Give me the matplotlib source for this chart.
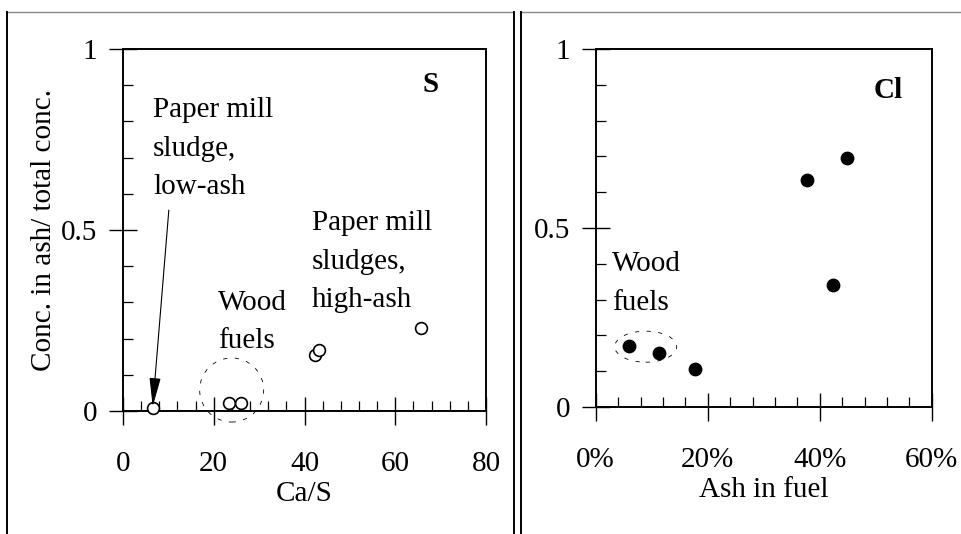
import matplotlib
matplotlib.use("Agg")
import matplotlib.pyplot as plt
from matplotlib.patches import Ellipse
from matplotlib.lines import Line2D
from matplotlib.ticker import MultipleLocator, FixedLocator, FuncFormatter, PercentFormatter

plt.rcParams['font.family'] = ['Liberation Serif', 'DejaVu Serif']

# Sulphur: Ca/S ratio vs. fraction retained in ash
ca_s = [6.6, 23.3, 25.9, 42.3, 43.2, 65.7]
s_in_ash = [0.008, 0.023, 0.023, 0.155, 0.168, 0.228]

# Chlorine: ash content of fuel vs. fraction retained in ash
ash_in_fuel = [0.060, 0.113, 0.178, 0.378, 0.449, 0.424]
cl_in_ash = [0.170, 0.150, 0.105, 0.634, 0.696, 0.340]

y_ticks = [0, 0.5, 1]
y_tick_labels = ["0", "0.5", "1"]

W, H = 961, 534
FS = 21

fig = plt.figure(figsize=(W / 100, H / 100), dpi=100)


def px_rect(x0, y0, x1, y1):
    return [x0 / W, 1 - y1 / H, (x1 - x0) / W, (y1 - y0) / H]


def fx(px):
    return px / W


def fy(py):
    return 1 - py / H


def style_axes(ax):
    for sp in ax.spines.values():
        sp.set_linewidth(1.4)
        sp.set_color('black')
    ax.set_ylim(0, 1)
    ax.yaxis.set_major_locator(FixedLocator(y_ticks))
    ax.yaxis.set_major_formatter(FuncFormatter(lambda v, p: y_tick_labels[y_ticks.index(v)] if v in y_ticks else ""))
    ax.yaxis.set_minor_locator(MultipleLocator(0.1))
    ax.tick_params(which='major', direction='inout', length=20, width=1.0,
                   labelsize=FS, top=False, right=False)
    ax.tick_params(which='minor', direction='in', length=7, width=0.9,
                   top=False, right=False)
    ax.tick_params(axis='x', which='major', pad=18.5)
    ax.tick_params(axis='y', which='major', pad=8.5)


# ---- Left panel: S ----
ax1 = fig.add_axes(px_rect(123, 49, 486, 411))
ax1.scatter(ca_s, s_in_ash, s=72, facecolors='white', edgecolors='black',
            linewidths=1.2, zorder=3, clip_on=False)
ax1.set_xlim(0, 80)
ax1.xaxis.set_major_locator(MultipleLocator(20))
ax1.xaxis.set_minor_locator(MultipleLocator(4))
style_axes(ax1)
ax1.set_xlabel("Ca/S", fontsize=FS, labelpad=3.5)
ax1.set_ylabel("Conc. in ash/ total conc.", fontsize=FS, labelpad=3)

ax1.add_patch(Ellipse((23.95, 0.058), 14.1, 0.177, fill=False, edgecolor='black',
                      linewidth=0.6, linestyle=(0, (5, 9)), clip_on=False, zorder=2))

ax1.annotate("", xy=(6.55, 0.012), xytext=(10.1, 0.555),
             arrowprops=dict(arrowstyle="-|>,head_length=1.8,head_width=0.35",
                             mutation_scale=10, color='black', lw=0.8,
                             shrinkA=0, shrinkB=0))

# ---- Right panel: Cl ----
ax2 = fig.add_axes(px_rect(595.7, 49, 931.7, 407))
ax2.scatter(ash_in_fuel, cl_in_ash, s=80, color='black', zorder=3)
ax2.set_xlim(0, 0.6)
ax2.xaxis.set_major_locator(MultipleLocator(0.2))
ax2.xaxis.set_minor_locator(MultipleLocator(0.04))
ax2.xaxis.set_major_formatter(PercentFormatter(xmax=1, decimals=0))
style_axes(ax2)
ax2.set_xlabel("Ash in fuel", fontsize=FS, labelpad=3.5)

ax2.add_patch(Ellipse((0.0893, 0.1685), 0.1107, 0.0866, fill=False, edgecolor='black',
                      linewidth=0.6, linestyle=(0, (5, 9)), clip_on=False, zorder=2))

# ---- Annotation labels (one text per line, baseline-anchored) ----
labels = [
    (153, [117, 156, 194], ["Paper mill", "sludge,", "low-ash"]),
    (312, [230, 269, 307], ["Paper mill", "sludges,", "high-ash"]),
    (218, [310, 348], ["Wood", "fuels"]),
    (611.7, [271, 310], ["Wood", "fuels"]),
]
for x0, ys, lines in labels:
    for yb, line in zip(ys, lines):
        fig.text(fx(x0), fy(yb), line, fontsize=FS, va='baseline', ha='left')

fig.text(fx(423), fy(92), "S", fontsize=FS, fontweight='bold', va='baseline', ha='left')
fig.text(fx(874), fy(98), "Cl", fontsize=FS, fontweight='bold', va='baseline', ha='left')

# ---- Panel frames ----
frame_lines = [
    ((7, 513), (12, 12), '#888888', 1.0),
    ((521, 961), (12, 12), '#888888', 1.0),
    ((7, 7), (12, 534), 'black', 1.4),
    ((513.5, 513.5), (12, 534), 'black', 1.4),
    ((521, 521), (12, 534), 'black', 1.4),
]
for xs, ys, col, lw in frame_lines:
    fig.add_artist(Line2D([fx(x) for x in xs], [fy(y) for y in ys],
                          transform=fig.transFigure, color=col, linewidth=lw))

fig.savefig("out.png", dpi=100)
